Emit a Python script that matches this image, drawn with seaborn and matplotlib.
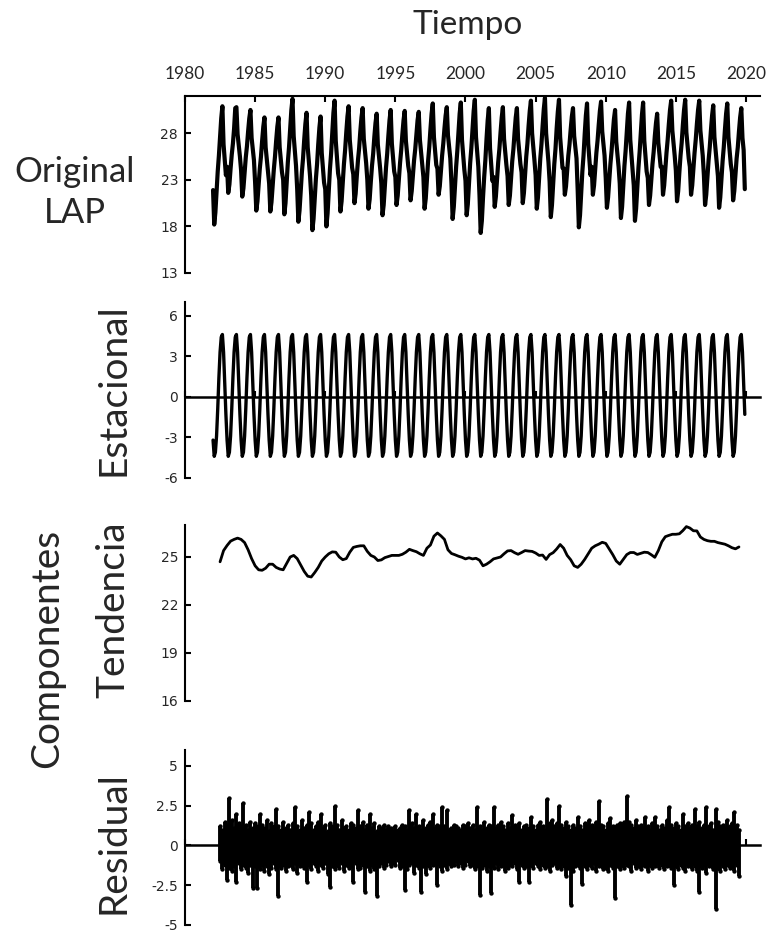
"""Descomposición de la serie LAP: original, estacional, tendencia y residual."""

import matplotlib

matplotlib.use("Agg")

import matplotlib.pyplot as plt
import numpy as np
import pandas as pd
import seaborn as sns

# serie original, valores mensuales (ene..dic) de 1982 a 2019
lap_original = [
    [21.9, 18.2, 19.5, 21.8, 23.9, 25.6, 27.7, 29.6, 30.9, 26.8, 25.2, 23.5],
    [24.4, 21.6, 22.5, 24.2, 25.7, 26.9, 28.5, 30.7, 30.8, 27.9, 26.7, 25.5],
    [24.0, 21.2, 22.1, 23.8, 25.4, 26.6, 28.2, 29.6, 30.5, 27.5, 26.3, 25.1],
    [22.7, 19.7, 20.7, 22.5, 24.2, 25.5, 27.2, 28.7, 29.7, 26.5, 25.2, 23.9],
    [22.6, 19.6, 20.6, 22.4, 24.1, 25.5, 27.2, 28.7, 29.7, 26.5, 25.2, 23.8],
    [23.0, 19.3, 20.5, 22.8, 24.9, 26.5, 28.6, 30.5, 31.7, 27.7, 26.1, 24.5],
    [22.0, 18.5, 19.7, 21.8, 23.8, 25.3, 27.3, 29.0, 30.2, 26.5, 24.9, 23.4],
    [21.3, 17.6, 18.8, 21.0, 23.1, 24.7, 26.8, 28.6, 29.8, 25.9, 24.3, 22.7],
    [22.0, 18.0, 19.4, 21.8, 24.1, 25.8, 28.1, 30.2, 31.5, 27.2, 25.4, 23.7],
    [23.0, 19.6, 20.7, 22.8, 24.7, 26.2, 28.1, 29.8, 30.9, 27.3, 25.8, 24.3],
    [23.6, 20.5, 21.5, 23.4, 25.1, 26.4, 28.2, 29.7, 30.7, 27.4, 26.1, 24.8],
    [23.0, 19.9, 20.9, 22.8, 24.5, 25.8, 27.6, 29.1, 30.1, 26.8, 25.5, 24.2],
    [22.6, 19.2, 20.3, 22.4, 24.3, 25.8, 27.7, 29.4, 30.5, 26.9, 25.4, 23.9],
    [23.3, 20.3, 21.3, 23.1, 24.8, 26.2, 27.9, 29.4, 30.4, 27.2, 25.9, 24.5],
    [23.7, 20.8, 21.8, 23.5, 25.1, 26.3, 27.9, 29.4, 30.3, 27.3, 26.0, 24.8],
    [23.3, 19.9, 21.0, 23.1, 25.0, 26.5, 28.4, 30.1, 31.2, 27.6, 26.1, 24.6],
    [24.2, 21.4, 22.3, 24.0, 25.6, 26.9, 28.5, 29.9, 30.8, 27.8, 26.6, 25.3],
    [22.6, 18.8, 20.1, 22.3, 24.4, 26.1, 28.2, 30.1, 31.3, 27.3, 25.7, 24.1],
    [22.9, 19.2, 20.4, 22.7, 24.8, 26.4, 28.5, 30.4, 31.6, 27.6, 26.0, 24.4],
    [21.3, 17.3, 18.6, 21.1, 23.3, 25.1, 27.4, 29.4, 30.7, 26.4, 24.7, 22.9],
    [23.3, 20.1, 21.2, 23.1, 24.9, 26.3, 28.1, 29.7, 30.8, 27.4, 26.0, 24.6],
    [23.4, 20.3, 21.3, 23.2, 25.0, 26.3, 28.1, 29.7, 30.7, 27.4, 26.0, 24.7],
    [23.8, 20.5, 21.6, 23.6, 25.5, 26.9, 28.8, 30.4, 31.5, 28.0, 26.6, 25.1],
    [23.5, 19.9, 21.1, 23.2, 25.3, 26.8, 28.8, 30.6, 31.8, 28.0, 26.4, 24.9],
    [22.8, 19.0, 20.3, 22.5, 24.7, 26.3, 28.5, 30.3, 31.6, 27.6, 25.9, 24.3],
    [24.2, 21.4, 22.3, 24.0, 25.6, 26.8, 28.4, 29.8, 30.7, 27.7, 26.5, 25.3],
    [21.9, 17.9, 19.2, 21.6, 23.9, 25.6, 27.9, 29.9, 31.2, 26.9, 25.2, 23.5],
    [24.4, 21.4, 22.4, 24.2, 25.9, 27.2, 28.9, 30.4, 31.4, 28.2, 26.9, 25.6],
    [23.2, 20.0, 21.1, 22.9, 24.7, 26.1, 27.9, 29.5, 30.5, 27.1, 25.8, 24.4],
    [22.6, 18.9, 20.1, 22.4, 24.5, 26.1, 28.2, 30.1, 31.3, 27.3, 25.7, 24.1],
    [22.4, 18.6, 19.9, 22.2, 24.3, 26.0, 28.1, 30.0, 31.3, 27.2, 25.6, 23.9],
    [23.2, 20.3, 21.3, 23.0, 24.7, 26.0, 27.7, 29.1, 30.1, 27.0, 25.7, 24.4],
    [24.4, 21.4, 22.4, 24.2, 25.9, 27.3, 29.0, 30.5, 31.5, 28.3, 27.0, 25.6],
    [24.0, 20.7, 21.8, 23.8, 25.6, 27.0, 28.9, 30.5, 31.6, 28.1, 26.7, 25.3],
    [24.4, 21.4, 22.4, 24.2, 25.9, 27.3, 29.0, 30.5, 31.5, 28.3, 27.0, 25.6],
    [23.5, 20.3, 21.4, 23.3, 25.1, 26.5, 28.3, 29.9, 31.0, 27.6, 26.2, 24.8],
    [23.4, 20.0, 21.1, 23.1, 25.0, 26.5, 28.4, 30.1, 31.2, 27.6, 26.2, 24.7],
    [23.8, 20.8, 21.8, 23.6, 25.3, 26.5, 28.2, 29.7, 30.7, 27.5, 26.2, 22.0],
]

# componente estacional (ene..dic), se repite cada año
seasonal_profile = [-3.2, -4.4, -4.1, -2.9, -0.9, 1.4, 3.3, 4.4, 4.6, 3.3, 1.0, -1.3]

# tendencia trimestral, jul 1982 .. jul 2019
trend_values = [
    24.70, 25.40,
    25.72, 25.99, 26.10, 26.18, 26.10, 25.90, 25.45, 24.90,
    24.45, 24.20, 24.17, 24.30, 24.55, 24.55, 24.35, 24.25,
    24.20, 24.60, 25.00, 25.10, 24.90, 24.50, 24.10, 23.80,
    23.75, 24.03, 24.35, 24.75, 25.00, 25.20, 25.32, 25.30,
    25.00, 24.83, 24.90, 25.30, 25.60, 25.66, 25.70, 25.70,
    25.35, 25.10, 25.00, 24.78, 24.82, 24.96, 25.03, 25.10,
    25.10, 25.10, 25.17, 25.30, 25.48, 25.40, 25.33, 25.20,
    25.10, 25.55, 25.75, 26.30, 26.50, 26.32, 26.10, 25.45,
    25.22, 25.14, 25.05, 24.98, 24.88, 24.95, 24.88, 24.92,
    24.80, 24.45, 24.55, 24.70, 24.88, 24.94, 25.00, 25.20,
    25.38, 25.40, 25.27, 25.17, 25.28, 25.40, 25.37, 25.35,
    25.25, 25.10, 25.12, 24.85, 25.15, 25.27, 25.50, 25.78,
    25.55, 25.10, 24.83, 24.45, 24.35, 24.55, 24.85, 25.20,
    25.55, 25.70, 25.80, 25.92, 25.85, 25.50, 25.15, 24.75,
    24.55, 24.85, 25.15, 25.28, 25.28, 25.16, 25.23, 25.30,
    25.28, 25.14, 24.98, 25.40, 25.95, 26.27, 26.35, 26.42,
    26.42, 26.45, 26.65, 26.90, 26.81, 26.64, 26.63, 26.25,
    26.10, 26.02, 25.98, 25.98, 25.90, 25.85, 25.80, 25.70,
    25.58, 25.51, 25.63,
]

# residual: extremos superior e inferior cada dos meses, jul 1982 .. jul 2019
resid_high = [
    1.2, 1.0, 1.5, 1.3, 3.0, 1.6, 1.1, 2.0, 1.4, 1.2, 2.7, 1.3,
    1.0, 1.5, 1.1, 1.4, 1.2, 2.0, 1.3, 1.1, 1.6, 0.9, 1.4, 1.2,
    2.3, 1.2, 1.0, 1.5, 1.1, 1.3, 1.0, 1.4, 2.4, 1.2, 1.0, 1.6,
    1.1, 1.3, 2.1, 1.4, 1.0, 1.2, 1.5, 2.0, 1.1, 1.3, 0.9, 1.4,
    1.2, 2.5, 1.3, 1.0, 1.6, 1.1, 1.2, 1.0, 1.4, 1.3, 1.1, 2.2,
    1.2, 1.5, 1.0, 1.3, 2.0, 1.1, 1.4, 0.9, 1.2, 1.1, 1.3, 1.0,
    1.2, 1.1, 0.9, 1.2, 1.0, 1.1, 1.3, 1.2, 1.0, 2.2, 1.4, 1.1,
    2.0, 1.2, 1.0, 1.6, 1.1, 1.3, 1.5, 2.0, 1.1, 1.3, 1.2, 2.4,
    1.2, 2.2, 1.0, 1.1, 1.3, 1.2, 1.1, 1.0, 1.3, 1.2, 1.4, 1.1,
    1.3, 1.0, 2.4, 1.2, 1.0, 1.5, 1.1, 1.3, 1.2, 2.4, 1.1, 1.3,
    1.5, 1.2, 1.0, 1.4, 1.1, 1.9, 1.3, 1.1, 1.4, 1.0, 1.2, 1.3,
    1.1, 1.8, 1.2, 1.0, 1.3, 1.5, 1.2, 1.0, 2.9, 1.4, 1.6, 1.2,
    1.4, 2.5, 1.3, 1.1, 1.5, 1.2, 1.0, 1.3, 1.1, 1.8, 1.2, 1.0,
    1.4, 1.2, 1.6, 1.3, 1.1, 1.5, 2.8, 1.3, 1.2, 1.0, 1.4, 1.7,
    1.2, 1.1, 1.3, 1.4, 1.2, 1.5, 3.1, 1.5, 1.3, 1.1, 1.6, 1.2,
    1.3, 1.1, 1.8, 1.2, 1.0, 1.4, 1.8, 1.2, 1.0, 1.3, 1.1, 1.6,
    2.4, 1.3, 1.1, 1.4, 1.2, 1.0, 1.95, 1.2, 1.4, 1.1, 1.3, 2.3,
    1.2, 1.5, 1.1, 1.3, 2.4, 1.2, 1.4, 1.0, 2.3, 1.5, 1.2, 1.3,
    1.1, 1.6, 1.2, 1.4, 2.1, 1.3, 1.0,
]
resid_low = [
    -1.0, -1.5, -1.2, -2.2, -1.4, -1.6, -1.3, -2.3, -1.1, -1.5, -1.2, -1.4,
    -1.7, -1.2, -2.7, -1.3, -2.7, -1.5, -1.2, -1.6, -1.3, -1.8, -1.4, -1.1,
    -1.5, -3.2, -1.4, -1.2, -1.6, -1.3, -1.2, -1.5, -1.1, -1.7, -1.3, -1.2,
    -1.4, -2.3, -1.2, -1.5, -1.1, -1.3, -1.6, -1.2, -1.4, -1.1, -1.8, -2.6,
    -1.3, -1.5, -1.2, -1.4, -1.1, -1.6, -1.2, -1.4, -1.3, -2.3, -1.1, -1.5,
    -1.4, -1.2, -2.9, -1.3, -1.6, -1.2, -1.5, -3.2, -1.3, -1.1, -1.4, -1.2,
    -1.0, -1.3, -1.1, -1.2, -0.9, -1.4, -1.3, -2.8, -1.5, -1.2, -1.1, -1.7,
    -1.2, -1.4, -2.9, -1.3, -1.8, -1.2, -1.4, -1.2, -1.1, -2.5, -1.3, -1.6,
    -1.2, -1.5, -1.1, -1.3, -1.2, -1.0, -1.3, -1.1, -1.4, -1.2, -1.0, -1.3,
    -1.2, -1.5, -1.3, -3.1, -1.4, -1.2, -1.6, -1.3, -3.0, -1.4, -1.1, -1.5,
    -1.3, -1.2, -1.6, -1.4, -1.2, -1.3, -1.1, -1.5, -2.3, -1.2, -1.4, -1.3,
    -2.3, -1.2, -1.4, -1.1, -1.3, -1.5, -1.2, -1.4, -1.3, -1.6, -1.2, -1.1,
    -1.4, -1.2, -1.5, -1.3, -1.9, -1.4, -3.75, -1.6, -1.3, -1.2, -1.4, -2.4,
    -1.3, -1.5, -1.2, -1.4, -1.1, -1.6, -1.3, -1.2, -1.5, -1.4, -1.6, -1.2,
    -1.4, -3.3, -1.3, -1.5, -1.2, -1.4, -1.2, -1.3, -1.6, -1.1, -1.4, -1.3,
    -1.5, -1.2, -1.3, -1.6, -1.2, -1.4, -1.3, -1.1, -1.4, -1.2, -1.5, -1.3,
    -1.2, -1.4, -2.5, -1.3, -1.5, -1.2, -1.4, -1.6, -1.3, -1.2, -1.5, -1.3,
    -1.6, -2.9, -1.4, -1.2, -1.7, -1.3, -1.2, -1.5, -4.0, -1.4, -1.6, -1.3,
    -1.5, -1.2, -1.4, -1.3, -1.6, -1.2, -1.9,
]

year_ticks = list(range(1980, 2021, 5))


def decimal_year(dates):
    return dates.year + (dates.month - 1) / 12


original_flat = np.ravel(lap_original)
months = pd.date_range("1982-01-01", periods=len(original_flat), freq="MS")
original = pd.DataFrame({"t": decimal_year(months), "valor": original_flat})
seasonal = pd.DataFrame({
    "t": decimal_year(months),
    "valor": np.tile(seasonal_profile, len(lap_original)),
})
quarters = pd.date_range("1982-07-01", periods=len(trend_values), freq="3MS")
trend = pd.DataFrame({"t": decimal_year(quarters), "valor": trend_values})
bimonths = pd.date_range("1982-07-01", periods=len(resid_high), freq="2MS")
resid = pd.DataFrame({
    "t": decimal_year(bimonths),
    "alto": resid_high,
    "bajo": resid_low,
})

sns.set_theme(style="white")
plt.rcParams["font.family"] = ["Lato", "DejaVu Sans"]
plt.rcParams["axes.unicode_minus"] = False

W, H = 771, 934
fig = plt.figure(figsize=(W / 100, H / 100), dpi=100)


def px_axes(top, bottom, left=185, right=760):
    return fig.add_axes([left / W, 1 - bottom / H, (right - left) / W, (bottom - top) / H])


ax1 = px_axes(96, 273)
ax2 = px_axes(302, 478)
ax3 = px_axes(525, 701)
ax4 = px_axes(750, 925)

sns.lineplot(data=original, x="t", y="valor", ax=ax1, color="black", linewidth=3.0,
             estimator=None)
sns.lineplot(data=seasonal, x="t", y="valor", ax=ax2, color="black", linewidth=2.4,
             estimator=None)
sns.lineplot(data=trend, x="t", y="valor", ax=ax3, color="black", linewidth=2.0,
             estimator=None)

ax4.vlines(resid["t"], resid["bajo"], resid["alto"], color="black", linewidth=2.8,
           zorder=3)
long_resid = resid.melt(id_vars="t", value_vars=["alto", "bajo"], value_name="valor")
sns.scatterplot(data=long_resid, x="t", y="valor", ax=ax4, color="black", s=10,
                linewidth=0, zorder=4)

ylims = [(13, 32), (-6, 7), (16, 27), (-5, 6)]
yticks = [[13, 18, 23, 28], [-6, -3, 0, 3, 6], [16, 19, 22, 25], [-5, -2.5, 0, 2.5, 5]]
ylabels = [None, None, None, ["-5", "-2.5", "0", "2.5", "5"]]

for ax, lim, ticks, labels in zip([ax1, ax2, ax3, ax4], ylims, yticks, ylabels):
    ax.set_facecolor("none")
    ax.set_xlim(1980, 2021)
    ax.set_ylim(*lim)
    ax.set_yticks(ticks)
    if labels:
        ax.set_yticklabels(labels)
    ax.set_xlabel("")
    ax.set_ylabel("")
    for side in ["top", "bottom", "right"]:
        ax.spines[side].set_visible(False)
    ax.spines["left"].set_color("black")
    ax.spines["left"].set_linewidth(1.5)
    ax.tick_params(axis="y", direction="in", length=4, width=1.5, color="black",
                   pad=5, labelsize=10, left=True)
    for lbl in ax.get_yticklabels():
        lbl.set_fontfamily("DejaVu Sans")

# eje de tiempo arriba
ax1.spines["top"].set_visible(True)
ax1.spines["top"].set_color("black")
ax1.spines["top"].set_linewidth(1.5)
ax1.xaxis.tick_top()
ax1.set_xticks(year_ticks)
ax1.tick_params(axis="x", direction="in", length=4, width=1.5, color="black",
                top=True, bottom=False, labeltop=True, labelbottom=False,
                pad=10, labelsize=12.5)

# lineas de cero en estacional y residual
for ax in [ax2, ax4]:
    ax.spines["bottom"].set_visible(True)
    ax.spines["bottom"].set_position(("data", 0))
    ax.spines["bottom"].set_color("black")
    ax.spines["bottom"].set_linewidth(1.8)
    ax.spines["bottom"].set_zorder(2)
    ax.set_xticks(year_ticks)
    ax.tick_params(axis="x", direction="in", length=4, width=1.5, color="black",
                   bottom=True, labelbottom=False)

ax3.set_xticks([])

fig.text(468 / W, 1 - 25 / H, "Tiempo", ha="center", va="center", fontsize=24)
fig.text(75 / W, 1 - 172 / H, "Original", ha="center", va="center", fontsize=25)
fig.text(75 / W, 1 - 213 / H, "LAP", ha="center", va="center", fontsize=25)
for label, y in [("Estacional", 390), ("Tendencia", 610), ("Residual", 843)]:
    fig.text(113 / W, 1 - y / H, label, rotation=90, ha="center", va="center", fontsize=28)
fig.text(47 / W, 1 - 648 / H, "Componentes", rotation=90, ha="center", va="center", fontsize=28)

fig.savefig("out.png", dpi=100)
